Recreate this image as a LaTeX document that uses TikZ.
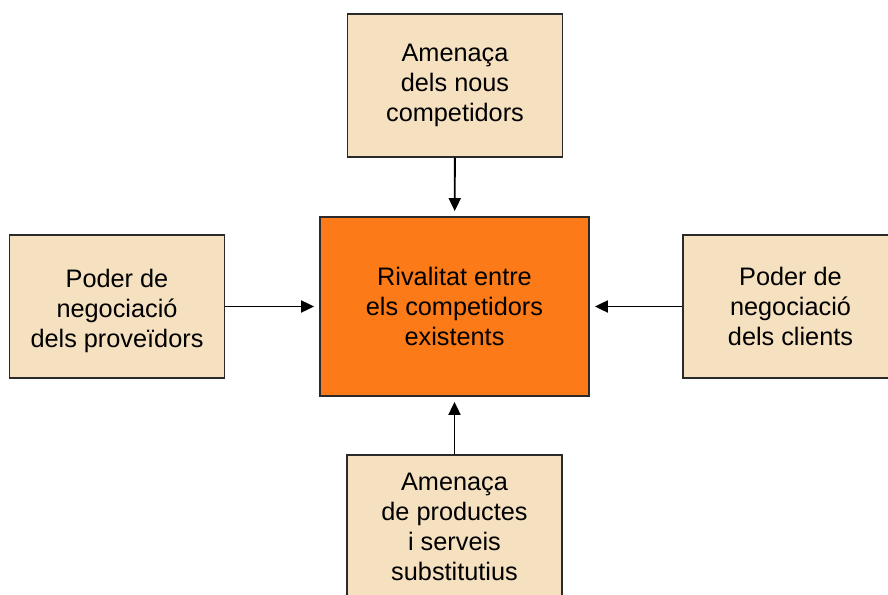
\documentclass[tikz,border=0pt]{standalone}
\usepackage{fontspec}
\setmainfont{Liberation Sans}
\usetikzlibrary{arrows.meta}

\definecolor{forcefill}{HTML}{F5E0C0}
\definecolor{rivalfill}{HTML}{FC7A17}
\definecolor{edgegray}{HTML}{2A2A2A}

\tikzset{
  forcetext/.style={align=center, inner sep=0pt,
    font=\fontsize{25.3pt}{30pt}\selectfont},
  forcebox/.style={forcetext, draw=edgegray, line width=1.8pt, fill=forcefill,
    minimum width=215pt, minimum height=143pt},
  rivalbox/.style={forcebox, fill=rivalfill,
    minimum width=269pt, minimum height=179pt},
  pushes/.style={line width=1.9pt, draw=black,
    -{Triangle[length=13pt,width=12pt]}, shorten >=5pt}
}

\begin{document}
\begin{tikzpicture}[x=1pt, y=-1pt]
  \useasboundingbox (0,0) rectangle (888,594);

  % central rivalry box
  \node[rivalbox] (rival) at (454.5,306.5)
    {Rivalitat entre\\els competidors\\existents};

  % the four surrounding forces
  \node[forcebox] (entrants) at (455,85.5)
    {Amenaça\\dels nous\\competidors};
  \node[forcebox] (suppliers) at (117,306.5) {};
  \node[forcetext] (supplierstext) at ([yshift=-4pt]suppliers.center)
    {Poder de\\negociació\\dels proveïdors};
  \node[forcebox] (buyers) at (790.5,306.5)
    {Poder de\\negociació\\dels clients};
  \node[forcebox] (substitutes) at (454.5,526.5)
    {Amenaça\\de productes\\i serveis\\substitutius};

  % each force points at the rivalry
  \draw[pushes] (entrants) -- (rival);
  \draw[pushes] (suppliers) -- (rival);
  \draw[pushes] (buyers) -- (rival);
  \draw[pushes] (substitutes) -- (rival);
\end{tikzpicture}
\end{document}
